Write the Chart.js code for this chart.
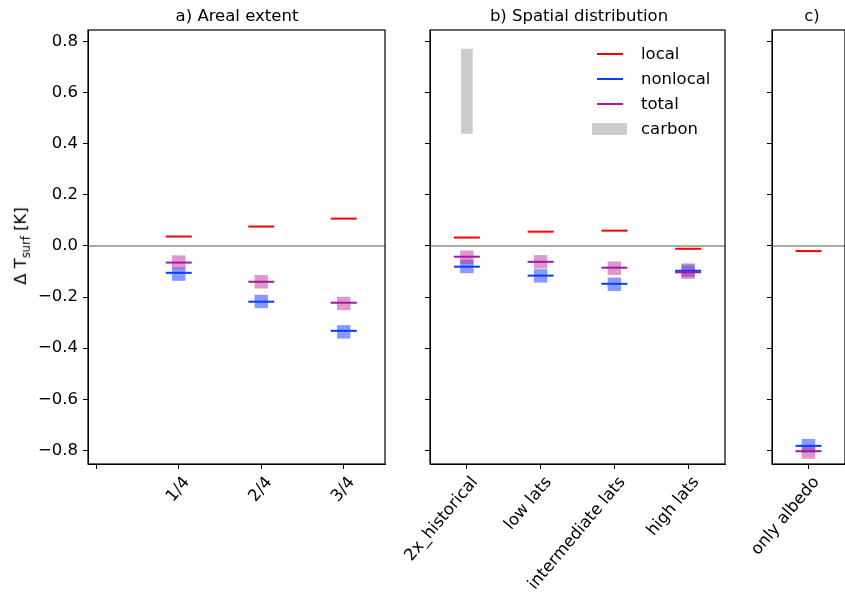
<!DOCTYPE html>
<html>
<head>
<meta charset="utf-8">
<script src="https://cdn.jsdelivr.net/npm/chart.js@4.4.1/dist/chart.umd.min.js"></script>
<style>
  body { margin: 0; width: 845px; height: 600px; overflow: hidden; position: relative; background: #fff;
         font-family: 'DejaVu Sans', sans-serif; color: #000; }
  canvas { position: absolute; top: 0; }
  .title { position: absolute; top: 6px; font-size: 16.5px; line-height: 20px; transform: translateX(-50%); white-space: nowrap; }
  #ylabel { position: absolute; left: 22px; top: 246px; font-size: 16.5px; white-space: nowrap;
            transform: translate(-50%, -50%) rotate(-90deg); }
  #ylabel sub { font-size: 11.5px; }
  #legend { position: absolute; left: 592px; top: 41px; font-size: 16.5px; }
  #legend .row { display: flex; align-items: center; height: 25px; }
  #legend .handle { width: 35px; display: flex; justify-content: center; margin-right: 14px; }
</style>
</head>
<body>
<canvas id="panelA" width="400" height="600" style="left:0px"></canvas>
<canvas id="panelB" width="350" height="600" style="left:390px"></canvas>
<canvas id="panelC" width="180" height="600" style="left:680px"></canvas>
<div class="title" style="left:237px">a) Areal extent</div>
<div class="title" style="left:579px">b) Spatial distribution</div>
<div class="title" style="left:812px">c)</div>
<div id="ylabel">Δ T<sub>surf</sub> [K]</div>
<div id="legend"></div>
<script>
// y axis
const yTicks = [-0.8, -0.6, -0.4, -0.2, 0.0, 0.2, 0.4, 0.6, 0.8];

// a) Areal extent
const areaLabels = ['', '1/4', '2/4', '3/4'];
const areaLocal = [null, 0.037, 0.076, 0.107];
const areaNonlocal = [null, -0.105, -0.218, -0.332];
const areaTotal = [null, -0.065, -0.140, -0.222];
const areaNonlocalBox = [null, -0.110, -0.217, -0.336];
const areaTotalBox = [null, -0.063, -0.140, -0.225];

// b) Spatial distribution
const spatialLabels = ['2x_historical', 'low lats', 'intermediate lats', 'high lats'];
const spatialLocal = [0.033, 0.056, 0.060, -0.011];
const spatialNonlocal = [-0.081, -0.116, -0.148, -0.097];
const spatialTotal = [-0.042, -0.062, -0.085, -0.103];
const spatialNonlocalBox = [-0.080, -0.117, -0.150, -0.095];
const spatialTotalBox = [-0.044, -0.062, -0.087, -0.103];
const carbonRange = [[0.44, 0.77], null, null, null];

// c)
const albedoLabels = ['only albedo'];
const albedoLocal = [-0.020];
const albedoNonlocal = [-0.782];
const albedoTotal = [-0.803];
const albedoNonlocalBox = [-0.781];
const albedoTotalBox = [-0.806];

const seriesNames = ['local', 'nonlocal', 'total', 'carbon'];
const colors = { local: '#ff0000', nonlocal: '#0040ff', total: '#a8179a', carbon: '#cccccc' };
const FONT = { family: "'DejaVu Sans', sans-serif", size: 16.5 };

// values -> {x, y}, skipping empty slots
function pts(values) {
    return values.map((v, i) => ({ x: i, y: v })).filter(p => p.y !== null);
}

function fmt(v) {
    return v.toFixed(1).replace('-', '\u2212');
}

// frame around the axes + zero line
const framePlugin = {
    id: 'frame',
    beforeDatasetsDraw(chart) {
        const { ctx, chartArea: a, scales } = chart;
        const y0 = scales.y.getPixelForValue(0);
        ctx.save();
        ctx.strokeStyle = '#8c8c8c';
        ctx.lineWidth = 1.6;
        ctx.beginPath();
        ctx.moveTo(a.left, y0);
        ctx.lineTo(a.right, y0);
        ctx.stroke();
        ctx.restore();
    },
    afterDraw(chart) {
        const { ctx, chartArea: a } = chart;
        ctx.save();
        ctx.strokeStyle = '#000';
        ctx.lineWidth = 1.2;
        ctx.strokeRect(a.left, a.top, a.right - a.left, a.bottom - a.top);
        ctx.restore();
    }
};

function lineSet(name, values, order) {
    return {
        label: name, data: pts(values), order: order,
        pointStyle: 'line', pointRadius: 13, pointHoverRadius: 13,
        borderColor: colors[name], backgroundColor: colors[name], borderWidth: 2, pointBorderWidth: 2
    };
}

function boxSet(values, color, order) {
    return {
        data: pts(values), order: order,
        pointStyle: 'rect', pointRadius: 9.5, pointHoverRadius: 9.5,
        backgroundColor: color, borderWidth: 0, pointBorderWidth: 0
    };
}

function makePanel(id, cfg) {
    const datasets = [
        lineSet('total', cfg.total, 0),
        lineSet('nonlocal', cfg.nonlocal, 1),
        lineSet('local', cfg.local, 2),
        boxSet(cfg.totalBox, 'rgba(187, 51, 153, 0.5)', 3),
        boxSet(cfg.nonlocalBox, 'rgba(17, 51, 255, 0.5)', 4)
    ];
    if (cfg.carbon) {
        datasets.push({
            type: 'bar', label: 'carbon', order: 5,
            data: cfg.carbon.map((r, i) => ({ x: i, y: r })).filter(p => p.y !== null),
            backgroundColor: colors.carbon, barThickness: 11
        });
    }

    new Chart(document.getElementById(id).getContext('2d'), {
        type: 'scatter',
        data: { datasets: datasets },
        plugins: [framePlugin],
        options: {
            responsive: false,
            animation: false,
            events: [],
            devicePixelRatio: 1,
            layout: { padding: { top: 30, right: cfg.padRight, left: 0, bottom: 0 } },
            plugins: { legend: { display: false }, tooltip: { enabled: false } },
            scales: {
                x: {
                    type: 'linear', min: cfg.xMin, max: cfg.xMax, offset: false,
                    afterBuildTicks: s => { s.ticks = cfg.labels.map((l, i) => ({ value: i })); },
                    afterFit: s => { s.height = 136; },
                    ticks: {
                        callback: v => cfg.labels[v],
                        minRotation: 50, maxRotation: 50, autoSkip: false,
                        color: '#000', font: FONT, padding: 4, labelOffset: 8
                    },
                    grid: { offset: false, drawOnChartArea: false, drawTicks: true, tickLength: 5, color: '#000' },
                    border: { display: true, color: '#000', width: 1 }
                },
                y: {
                    min: -0.853, max: 0.845,
                    afterBuildTicks: s => { s.ticks = yTicks.map(v => ({ value: v })); },
                    afterFit: s => { s.width = cfg.yWidth; },
                    ticks: {
                        callback: v => cfg.showY ? fmt(v) : '',
                        color: '#000', font: FONT, padding: 5
                    },
                    grid: { drawOnChartArea: false, drawTicks: true, tickLength: 5, color: '#000' },
                    border: { display: true, color: '#000', width: 1 }
                }
            }
        }
    });
}

makePanel('panelA', {
    labels: areaLabels, local: areaLocal, nonlocal: areaNonlocal, total: areaTotal,
    nonlocalBox: areaNonlocalBox, totalBox: areaTotalBox,
    xMin: -0.1, xMax: 3.5, yWidth: 88, padRight: 14, showY: true
});

makePanel('panelB', {
    labels: spatialLabels, local: spatialLocal, nonlocal: spatialNonlocal, total: spatialTotal,
    nonlocalBox: spatialNonlocalBox, totalBox: spatialTotalBox, carbon: carbonRange,
    xMin: -0.5, xMax: 3.5, yWidth: 40, padRight: 12, showY: false
});

makePanel('panelC', {
    labels: albedoLabels, local: albedoLocal, nonlocal: albedoNonlocal, total: albedoTotal,
    nonlocalBox: albedoNonlocalBox, totalBox: albedoTotalBox,
    xMin: -0.5, xMax: 0.5, yWidth: 92, padRight: 7, showY: false
});

// legend (html)
const legend = document.getElementById('legend');
seriesNames.forEach(name => {
    const row = document.createElement('div');
    row.className = 'row';
    const handle = document.createElement('div');
    handle.className = 'handle';
    const mark = document.createElement('div');
    if (name === 'carbon') {
        mark.style.cssText = 'width:35px;height:12px;background:' + colors[name];
    } else {
        mark.style.cssText = 'width:26px;height:2px;background:' + colors[name];
    }
    handle.appendChild(mark);
    const text = document.createElement('span');
    text.textContent = name;
    row.appendChild(handle);
    row.appendChild(text);
    legend.appendChild(row);
});
</script>
</body>
</html>
